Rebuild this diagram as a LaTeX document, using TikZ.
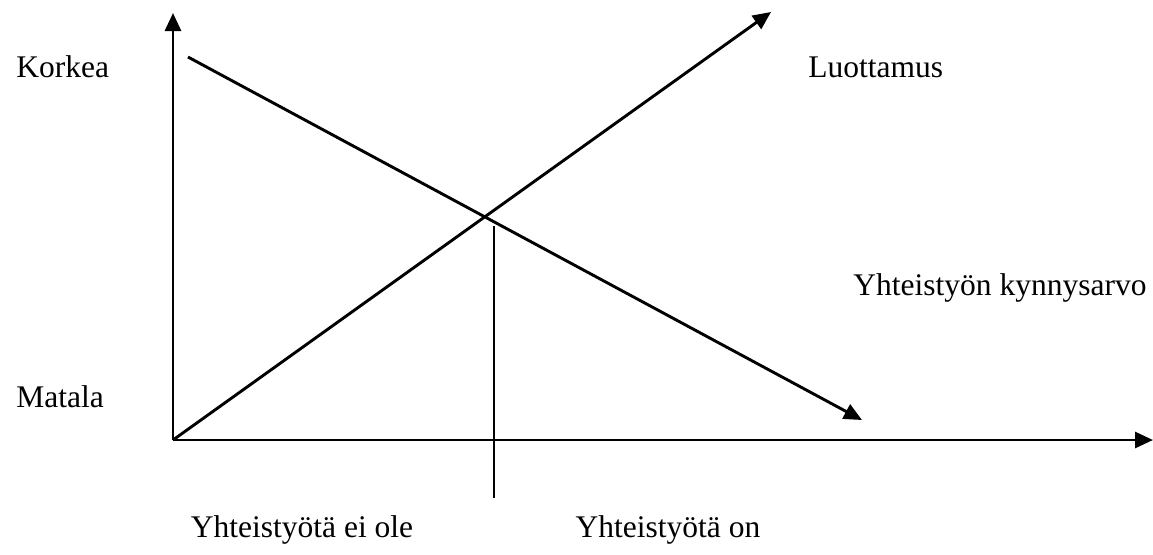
\documentclass[tikz,border=0pt]{standalone}
\usepackage{fontspec}
\setmainfont{Liberation Serif}
\usetikzlibrary{arrows.meta,positioning,calc}

\begin{document}
\begin{tikzpicture}[x=0.5pt, y=-0.5pt, line width=1.45pt,
        axis/.style={-{Triangle[length=9pt, width=8pt]}},
        lbl/.style={inner sep=0pt, font=\fontsize{15.75}{19}\selectfont}]
        \useasboundingbox (0,0) rectangle (1153,554);

        \coordinate (origo) at (173,440);
        \coordinate (ytop) at (173,13);
        \coordinate (xend) at (1153,440);
        \coordinate (lstart) at (173,440);
        \coordinate (lend) at (771,12);
        \coordinate (kstart) at (188,57);
        \coordinate (kend) at (862,420);
        \coordinate (rajaylä) at (494,226);
        \coordinate (raja) at (494,498);

        \node [lbl, anchor=base west] (korkea) at (15,77) {Korkea};
        \node [lbl, anchor=base west] (matala) at (15,407) {Matala};
        \node [lbl, anchor=base west] (luottamus) at (807,77) {Luottamus};
        \node [lbl, anchor=base west] (kynnys) at (852,295) {Yhteistyön kynnysarvo};
        \node [lbl, anchor=base] (eiole) at (302,537) {Yhteistyötä ei ole};
        \node [lbl, anchor=base] (on) at (668,537) {Yhteistyötä on};

        \draw [axis] (origo) -- (ytop);
        \draw [axis] (origo) -- (xend);
        \draw [axis] (lstart) -- (lend);
        \draw [axis] (kstart) -- (kend);
        \draw [line width=1pt] (rajaylä) -- (raja);
    \end{tikzpicture}
\end{document}
